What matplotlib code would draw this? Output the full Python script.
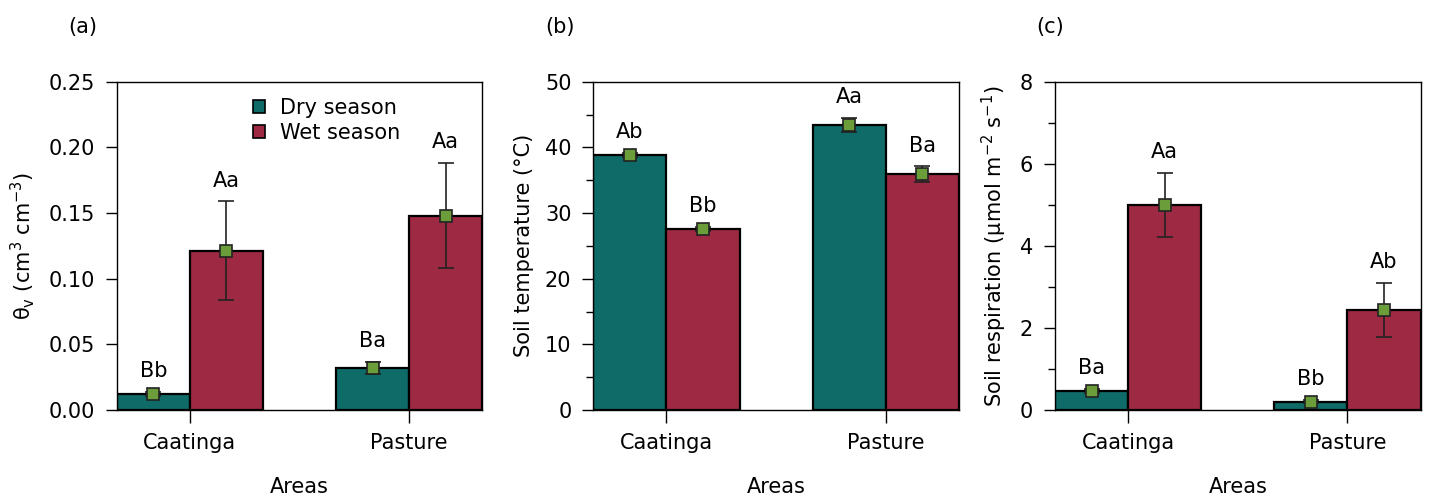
import matplotlib
matplotlib.use("Agg")
import matplotlib.pyplot as plt
import numpy as np
from matplotlib.patches import Patch
from matplotlib.ticker import MultipleLocator

plt.rcParams['font.family'] = ['DejaVu Sans']
plt.rcParams['mathtext.default'] = 'regular'

areas = ['Caatinga', 'Pasture']
seasons = ['Dry season', 'Wet season']

theta_dry = [0.0124, 0.0322]
theta_dry_err = [0.0015, 0.0047]
theta_wet = [0.1213, 0.148]
theta_wet_err = [0.0375, 0.040]
theta_dry_letters = ['Bb', 'Ba']
theta_wet_letters = ['Aa', 'Aa']

temp_dry = [38.8, 43.4]
temp_dry_err = [0.3, 1.05]
temp_wet = [27.6, 35.9]
temp_wet_err = [0.3, 1.2]
temp_dry_letters = ['Ab', 'Aa']
temp_wet_letters = ['Bb', 'Ba']

resp_dry = [0.46, 0.20]
resp_dry_err = [0.05, 0.04]
resp_wet = [5.0, 2.44]
resp_wet_err = [0.78, 0.66]
resp_dry_letters = ['Ba', 'Bb']
resp_wet_letters = ['Aa', 'Ab']

DRY = '#0e6b67'
WET = '#9d2943'
MK = '#6b9e3a'
FS = 15

fig = plt.figure(figsize=(14.29, 4.98), dpi=100)
W, H = 1429, 498
lefts = [116.7, 593.3, 1055.0]
aw = 365.6
top_px, bot_px = 81.7, 410.0

panels = [
    (theta_dry, theta_dry_err, theta_wet, theta_wet_err, theta_dry_letters, theta_wet_letters,
     r'$\theta_v$ (cm$^3$ cm$^{-3}$)', (0, 0.25), 0.05, None, '(a)', 83),
    (temp_dry, temp_dry_err, temp_wet, temp_wet_err, temp_dry_letters, temp_wet_letters,
     'Soil temperature (°C)', (0, 50), 10, 5, '(b)', 560),
    (resp_dry, resp_dry_err, resp_wet, resp_wet_err, resp_dry_letters, resp_wet_letters,
     r'Soil respiration (μmol m$^{-2}$ s$^{-1}$)', (0, 8), 2, 1, '(c)', 1050),
]

bw = 1 / 3
x = np.arange(len(areas))
for i, (dv, de, wv, we, dl, wl, ylab, ylim, major, minor, tag, tagx) in enumerate(panels):
    ax = fig.add_axes([lefts[i] / W, (H - bot_px) / H, aw / W, (bot_px - top_px) / H])
    ax.bar(x - bw / 2, dv, bw, color=DRY, edgecolor='black', linewidth=1.6, zorder=2, label=seasons[0])
    ax.bar(x + bw / 2, wv, bw, color=WET, edgecolor='black', linewidth=1.6, zorder=2, label=seasons[1])
    for xs, vals, errs, labs in [(x - bw / 2, dv, de, dl), (x + bw / 2, wv, we, wl)]:
        ax.errorbar(xs, vals, yerr=errs, fmt='s', color=MK, markeredgecolor='#222222',
                    markersize=8, markeredgewidth=1.2, ecolor='#222222', elinewidth=1.2,
                    capsize=6, capthick=1.2, zorder=3)
        for xx, v, e, t in zip(xs, vals, errs, labs):
            ax.annotate(t, xy=(xx, v + e), xytext=(0, 15), textcoords='offset points',
                        ha='center', va='center', fontsize=FS)
    ax.set_xlim(-1 / 3, 1 + 1 / 3)
    ax.set_ylim(*ylim)
    ax.yaxis.set_major_locator(MultipleLocator(major))
    if minor:
        ax.yaxis.set_minor_locator(MultipleLocator(minor))
    if i == 0:
        ax.yaxis.set_major_formatter(matplotlib.ticker.FormatStrFormatter('%.2f'))
    ax.set_xticks(x)
    ax.set_xticklabels(areas)
    ax.tick_params(axis='x', which='major', direction='out', length=9.5, width=1, pad=7,
                   labelsize=FS, top=False)
    ax.tick_params(axis='y', which='major', direction='out', length=7.7, width=1, pad=8,
                   labelsize=FS, right=False)
    ax.tick_params(axis='y', which='minor', direction='out', length=5, width=1, right=False)
    ax.set_xlabel('Areas', fontsize=FS, labelpad=17)
    ax.set_ylabel(ylab, fontsize=FS, labelpad=8)
    for s in ax.spines.values():
        s.set_linewidth(1)
        s.set_color('black')
    fig.text(tagx / W, 1 - 27 / H, tag, fontsize=FS, ha='center', va='center')
    if i == 0:
        handles = [Patch(facecolor=DRY, edgecolor='black', linewidth=1.2),
                   Patch(facecolor=WET, edgecolor='black', linewidth=1.2)]
        ax.legend(handles, seasons, loc='upper left', bbox_to_anchor=(0.373, 0.95),
                  frameon=False, fontsize=FS, handlelength=0.55, handleheight=0.55,
                  handletextpad=0.75, labelspacing=0.22, borderpad=0, borderaxespad=0)

fig.savefig('out.png', dpi=100)
